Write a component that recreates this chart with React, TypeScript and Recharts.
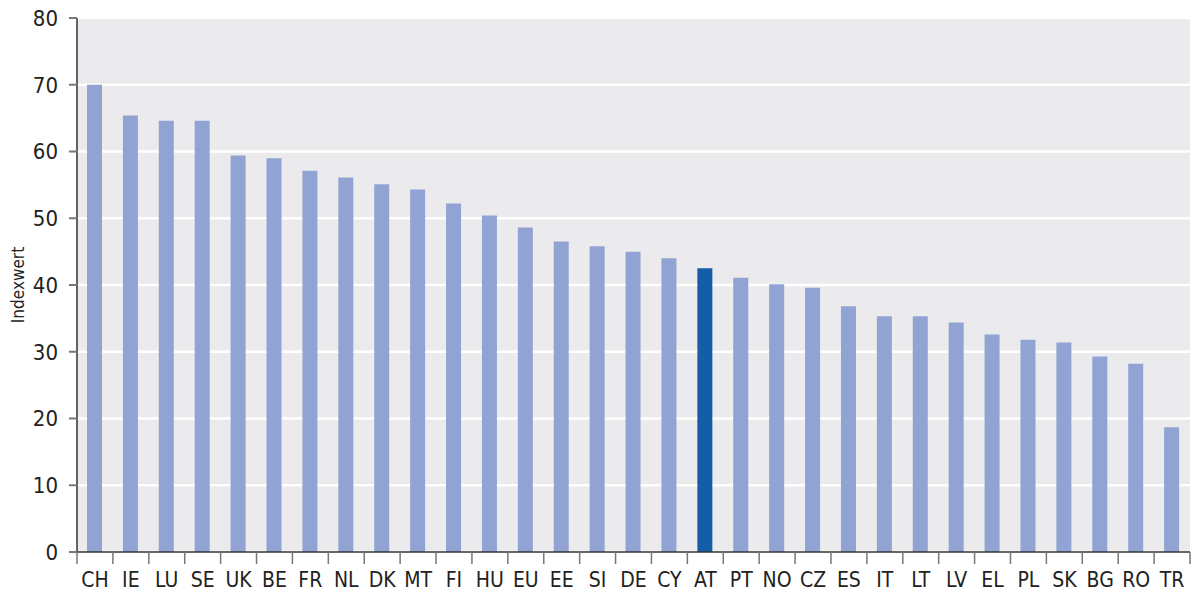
import React from "react"
import { BarChart, Bar, XAxis, YAxis, CartesianGrid, Cell } from "recharts"

const countries = [
  "CH", "IE", "LU", "SE", "UK", "BE", "FR", "NL", "DK", "MT", "FI", "HU", "EU", "EE", "SI", "DE",
  "CY", "AT", "PT", "NO", "CZ", "ES", "IT", "LT", "LV", "EL", "PL", "SK", "BG", "RO", "TR",
]
const indexValues = [
  70.0, 65.4, 64.6, 64.6, 59.4, 59.0, 57.1, 56.1, 55.1, 54.3, 52.2, 50.4, 48.6, 46.5, 45.8, 45.0,
  44.0, 42.5, 41.1, 40.1, 39.6, 36.8, 35.3, 35.3, 34.4, 32.6, 31.8, 31.4, 29.3, 28.2, 18.7,
]
const yTicks = [0, 10, 20, 30, 40, 50, 60, 70, 80]
const highlight = "AT"

const data = countries.map((c, i) => ({ land: c, wert: indexValues[i] }))

const W = 1192
const H = 592
const LEFT = 77
const RIGHT = 2
const FONT = '"Liberation Sans Narrow", "DejaVu Sans Condensed", sans-serif'
const band = (W - LEFT - RIGHT) / countries.length

function CountryTick(props: any) {
  const { x, y, payload, index } = props
  const left = x - band / 2
  return (
    <g>
      <line x1={left} y1={y} x2={left} y2={y + 12} stroke="#777" strokeWidth={1.5} />
      {index === countries.length - 1 && (
        <line x1={left + band} y1={y} x2={left + band} y2={y + 12} stroke="#777" strokeWidth={1.5} />
      )}
      <text x={x} y={y + 35} textAnchor="middle" fontSize={21} fill="#222" fontFamily={FONT}>
        {payload.value}
      </text>
    </g>
  )
}

export default function App() {
  return (
    <div style={{ position: "absolute", left: 0, top: 0, width: W, height: H, background: "#fff" }}>
      <BarChart
        width={W}
        height={H}
        data={data}
        margin={{ top: 18, right: RIGHT, bottom: 0, left: 0 }}
        barCategoryGap={0}
      >
        <CartesianGrid fill="#ebebee" stroke="#ffffff" strokeWidth={2.5} vertical={false} />
        <XAxis
          dataKey="land"
          height={40}
          tickSize={0}
          tickMargin={0}
          tickLine={false}
          interval={0}
          axisLine={{ stroke: "#333", strokeWidth: 1.5 }}
          tick={<CountryTick />}
        />
        <YAxis
          width={LEFT}
          domain={[0, 80]}
          ticks={yTicks}
          interval={0}
          tickSize={8}
          tickMargin={11}
          tickLine={{ stroke: "#777", strokeWidth: 2 }}
          axisLine={{ stroke: "#333", strokeWidth: 1.5 }}
          tick={{ fontSize: 22, fill: "#222", fontFamily: FONT }}
          label={{
            content: () => (
              <text
                x={24}
                y={285}
                transform="rotate(-90 24 285)"
                textAnchor="middle"
                fontSize={17}
                fill="#222"
                fontFamily={FONT}
              >
                Indexwert
              </text>
            ),
          }}
        />
        <Bar dataKey="wert" barSize={15} isAnimationActive={false}>
          {data.map((d) => (
            <Cell key={d.land} fill={d.land === highlight ? "#145ea8" : "#91a3d2"} />
          ))}
        </Bar>
      </BarChart>
    </div>
  )
}
